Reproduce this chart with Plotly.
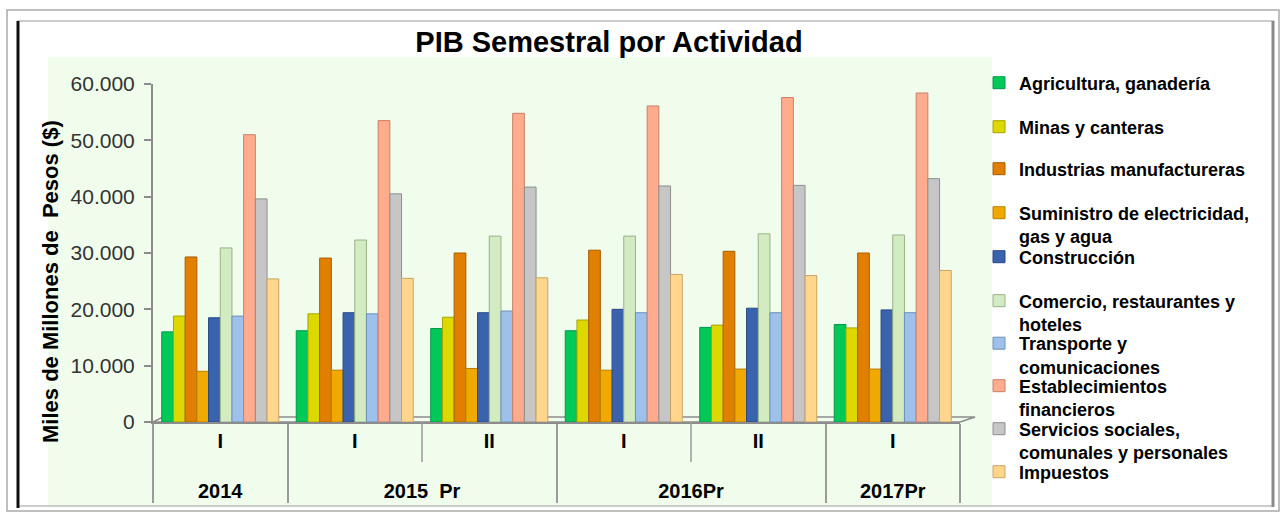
import plotly.graph_objects as go

# ---------------- data ----------------
years = ["2014", "2015\u00a0 Pr", "2015\u00a0 Pr", "2016Pr", "2016Pr", "2017Pr"]
semestres = ["I", "I", "II", "I", "II", "I"]

agricultura = [16000, 16200, 16600, 16200, 16800, 17300]
minas = [18800, 19200, 18600, 18100, 17200, 16700]
industrias = [29300, 29100, 30000, 30500, 30300, 30000]
suministro = [9000, 9200, 9500, 9200, 9400, 9400]
construccion = [18500, 19400, 19400, 20000, 20200, 19900]
comercio = [30900, 32300, 33000, 33000, 33400, 33200]
transporte = [18800, 19200, 19700, 19400, 19400, 19400]
establecimientos = [51000, 53500, 54800, 56100, 57600, 58400]
servicios = [39600, 40500, 41700, 41900, 42000, 43200]
impuestos = [25400, 25500, 25600, 26200, 26000, 26900]

series_values = [agricultura, minas, industrias, suministro, construccion,
                 comercio, transporte, establecimientos, servicios, impuestos]
series_names = [
    "Agricultura, ganadería",
    "Minas y canteras",
    "Industrias manufactureras",
    "Suministro de electricidad,<br>gas y agua",
    "Construcción",
    "Comercio, restaurantes y<br>hoteles",
    "Transporte y<br>comunicaciones",
    "Establecimientos<br>financieros",
    "Servicios sociales,<br>comunales y personales",
    "Impuestos",
]
fill_colors = ["#00C957", "#DCD800", "#E07F00", "#F0A900", "#3A63AE",
               "#D3EBC1", "#9DC1EA", "#FFAB8D", "#C6C6C6", "#FFD68B"]
edge_colors = ["#00994A", "#A8A400", "#A85E00", "#B88000", "#284985",
               "#98B287", "#6F90B8", "#C98068", "#8E8E8E", "#C9A565"]

# ---------------- geometry helpers (pixel -> paper) ----------------
W, H = 1283, 516
L, R, T, B = 153, 960, 84, 422


def px(x):
    return (x - L) / (R - L)


def py(y):
    return (B - y) / (B - T)


FONT = "Liberation Sans, Arial, sans-serif"

fig = go.Figure()

# vertical centre of each legend entry (pixels from top)
legend_centers = [83, 127, 169, 224.5, 257, 312.5, 355, 397.5, 440.5, 472]
legend_layouts = {}
for i, (name, vals, fc, ec) in enumerate(zip(series_names, series_values, fill_colors, edge_colors)):
    key = "legend" if i == 0 else f"legend{i + 1}"
    fig.add_trace(go.Bar(
        x=[years, semestres],
        y=vals,
        name=name,
        marker=dict(color=fc, line=dict(color=ec, width=1)),
        legend=key,
    ))
    legend_layouts[key] = dict(
        x=979 / W, xref="container", xanchor="left",
        y=1 - legend_centers[i] / H, yref="container", yanchor="middle",
        bgcolor="rgba(0,0,0,0)",
        font=dict(family=FONT, size=18, color="#000000", weight="bold"),
        valign="top",
        itemwidth=30,
    )

shapes = [
    # light green chart area
    dict(type="rect", xref="paper", yref="paper", x0=px(48), x1=px(992), y0=py(505), y1=py(57),
         fillcolor="#F0FCEC", line=dict(width=0), layer="below"),
    # 3D floor
    dict(type="path", xref="paper", yref="paper",
         path=f"M {px(153)},{py(422)} L {px(163)},{py(417)} L {px(975)},{py(417)} L {px(960)},{py(422)} Z",
         line=dict(color="#8C8C8C", width=1.5), fillcolor="rgba(0,0,0,0)", layer="below"),
    # inner semester dividers
    dict(type="line", xref="paper", yref="paper", x0=2 / 6, x1=2 / 6, y0=0, y1=py(462),
         line=dict(color="#9A9A9A", width=1.5)),
    dict(type="line", xref="paper", yref="paper", x0=4 / 6, x1=4 / 6, y0=0, y1=py(462),
         line=dict(color="#9A9A9A", width=1.5)),
    # frame
    dict(type="rect", xref="paper", yref="paper", x0=px(7), x1=px(1279), y0=py(511), y1=py(10),
         line=dict(color="#AAAAAA", width=1.5), fillcolor="rgba(0,0,0,0)"),
    dict(type="rect", xref="paper", yref="paper", x0=px(18), x1=px(1273), y0=py(506), y1=py(21),
         line=dict(color="#CCCCCC", width=2), fillcolor="rgba(0,0,0,0)"),
    dict(type="line", xref="paper", yref="paper", x0=px(18), x1=px(18), y0=py(508), y1=py(21),
         line=dict(color="#111111", width=3)),
    dict(type="line", xref="paper", yref="paper", x0=px(1273), x1=px(1273), y0=py(507), y1=py(21),
         line=dict(color="#8A8A8A", width=3)),
]

fig.update_layout(
    width=W, height=H,
    margin=dict(l=L, r=W - R, t=T, b=H - B),
    paper_bgcolor="#FFFFFF",
    plot_bgcolor="#F0FCEC",
    barmode="group",
    bargap=0.13,
    bargroupgap=0,
    separators=",.",
    showlegend=True,
    title=dict(text="PIB Semestral por Actividad", x=609 / W, xref="container", xanchor="center",
               y=1 - 42 / H, yref="container", yanchor="middle",
               font=dict(family=FONT, size=29, color="#000000", weight="bold")),
    xaxis=dict(
        type="multicategory",
        showline=True, linecolor="#8C8C8C", linewidth=2,
        showgrid=False, zeroline=False,
        ticks="", showdividers=True, dividercolor="#9A9A9A", dividerwidth=1.5,
        tickfont=dict(family=FONT, size=20, color="#000000", weight="bold"),
        labelalias={"I": "I<br>\u00a0", "II": "II<br>\u00a0"},
    ),
    yaxis=dict(
        range=[0, 60000], tickvals=[0, 10000, 20000, 30000, 40000, 50000, 60000],
        tickformat=",.0f",
        showline=True, linecolor="#8C8C8C", linewidth=2,
        ticks="outside", ticklen=7, tickcolor="#8C8C8C", tickwidth=1.5,
        ticklabelstandoff=5,
        showgrid=False, zeroline=False,
        tickfont=dict(family=FONT, size=21, color="#333333"),
    ),
    annotations=[dict(
        text="Miles de Millones de\u00a0 Pesos ($)", textangle=-90,
        xref="paper", yref="paper", x=px(50), y=py(282), xanchor="center", yanchor="middle",
        showarrow=False, font=dict(family=FONT, size=22, color="#000000", weight="bold"),
    )],
    shapes=shapes,
    **legend_layouts,
)

fig.write_html("out.html", config={"displayModeBar": False},
               post_script="document.body.style.margin='0px';")
